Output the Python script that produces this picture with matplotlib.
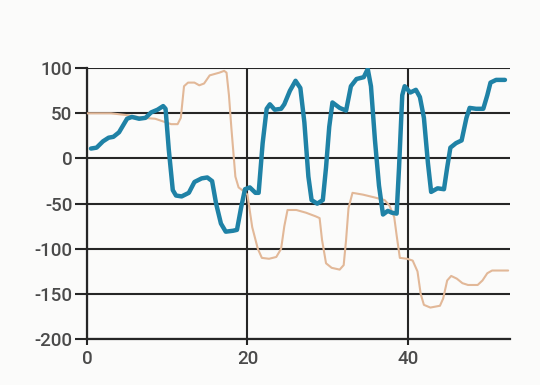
import matplotlib
matplotlib.use("Agg")
import matplotlib.pyplot as plt

plt.rcParams["axes.unicode_minus"] = False
plt.rcParams["font.family"] = ["Roboto", "DejaVu Sans"]

# Teal series: (x, value) samples
teal_x = [0.5, 1.2, 2, 2.7, 3.3, 4, 4.6, 5, 5.6, 6.5, 7.3, 8, 8.8, 9.5, 9.8, 10.2, 10.7,
          11.1, 11.8, 12.7, 13.4, 14.3, 15, 15.6, 16.1, 16.7, 17.3, 18.2, 18.7, 19.2,
          19.7, 20.3, 21, 21.4, 21.9, 22.4, 22.8, 23.4, 24.2, 24.6, 25.3, 26, 26.6,
          27.1, 27.6, 28, 28.7, 29.4, 29.8, 30.2, 30.6, 31.5, 32.3, 32.9, 33.6, 34.5,
          35, 35.4, 35.9, 36.4, 36.9, 37.5, 38, 38.6, 38.9, 39.3, 39.6, 40.3, 41,
          41.5, 42, 42.5, 42.9, 43.7, 44.5, 44.9, 45.3, 46, 46.7, 47.3, 47.7, 48.5,
          49.4, 49.9, 50.3, 51, 52.1]
teal_y = [11, 12, 19, 23, 24, 29, 38, 44, 46, 44, 45, 51, 54, 58, 55, 10, -35,
          -41, -42, -38, -26, -22, -21, -25, -50, -72, -81, -80, -79, -55,
          -34, -32, -38, -38, 17, 55, 60, 54, 55, 60, 75, 86, 78,
          40, -20, -46, -50, -46, -10, 35, 62, 56, 53, 80, 88, 90,
          99, 80, 20, -30, -62, -58, -60, -61, -10, 70, 80, 73, 76,
          68, 45, -5, -37, -33, -34, -10, 12, 17, 20, 45, 56, 55,
          55, 70, 84, 87, 87]

# Tan series: (x, value) samples
tan_x = [0, 3, 5, 7, 8.5, 9.5, 10.5, 11.3, 11.7, 12.1, 12.6, 13.4, 14, 14.6, 15.3,
         16.5, 17.1, 17.4, 17.7, 18, 18.5, 18.9, 19.5, 20, 20.6, 21.3, 21.8, 22.7,
         23.6, 24.2, 24.6, 25, 26.1, 27.3, 28.5, 29, 29.3, 29.8, 30.5, 31.5, 32,
         32.3, 32.6, 33.1, 34.4, 35.8, 37.1, 37.7, 38.3, 38.6, 39, 39.9, 40.6, 41.2,
         41.6, 42, 42.8, 44, 44.4, 44.9, 45.4, 46.1, 46.8, 47.5, 48.7, 49.3, 49.9,
         50.5, 51.5, 52.5]
tan_y = [50, 50, 48, 45, 44, 41, 38, 38, 45, 80, 84, 84, 81, 83, 92,
         95, 97, 95, 70, 34, -20, -32, -36, -40, -76, -100, -110, -111,
         -109, -100, -75, -57, -57, -60, -64, -66, -90, -116, -121, -123, -118,
         -90, -55, -38, -40, -43, -46, -52, -65, -85, -110, -111, -113, -125,
         -150, -162, -165, -163, -155, -135, -130, -133, -138, -140, -140, -135, -127,
         -124, -124, -124]

y_ticks = [100, 50, 0, -50, -100, -150, -200]
x_ticks = [0, 20, 40]

fig = plt.figure(figsize=(5.4, 3.85), dpi=100, facecolor="#fbfbfa")
ax = fig.add_axes([0.161, 0.119, 0.783, 0.704])
ax.set_facecolor("#fbfbfa")

ax.plot(tan_x, tan_y, color="#e2b898", lw=1.5, zorder=3,
        solid_joinstyle="round", solid_capstyle="round")
ax.plot(teal_x, teal_y, color="#1f82a6", lw=3.2, zorder=4,
        solid_joinstyle="round", solid_capstyle="round")

ax.set_xlim(0, 52.7)
ax.set_ylim(-200, 100)
ax.set_xticks(x_ticks)
ax.set_yticks(y_ticks)

grid_color = "#262626"
ax.grid(True, color=grid_color, lw=1.5, zorder=1)
ax.set_axisbelow(True)
for side in ("top", "right"):
    ax.spines[side].set_visible(False)
for side in ("left", "bottom"):
    ax.spines[side].set_color(grid_color)
    ax.spines[side].set_linewidth(1.6)
    ax.spines[side].set_zorder(2)

ax.tick_params(axis="both", colors=grid_color, width=1.5,
               labelsize=13.5, labelcolor="#4a4a4a")
ax.tick_params(axis="y", length=8.5, pad=2)
ax.tick_params(axis="x", length=4.5, pad=3)
for lbl in ax.get_xticklabels() + ax.get_yticklabels():
    lbl.set_fontweight("medium")

fig.savefig("out.png", dpi=100, facecolor=fig.get_facecolor())
